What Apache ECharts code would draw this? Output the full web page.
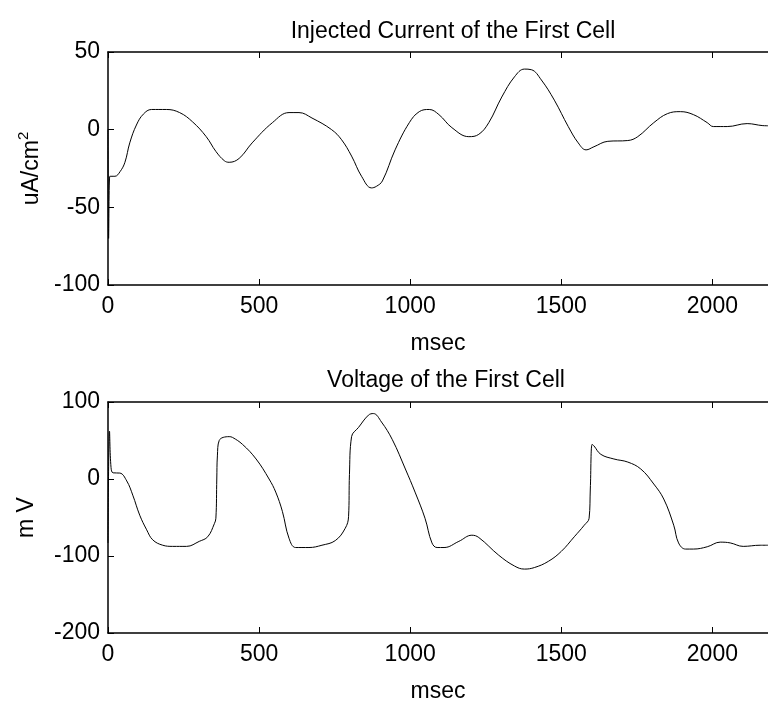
<!DOCTYPE html>
<html>
<head>
<meta charset="utf-8">
<script src="https://cdn.jsdelivr.net/npm/echarts@6/dist/echarts.min.js"></script>
<style>html,body{margin:0;padding:0;background:#fff}#c{width:768px;height:704px}</style>
</head>
<body>
<div id="c"></div>
<script>
// ---- data ----
const titles = ['Injected Current of the First Cell', 'Voltage of the First Cell'];
const xTicks = [0, 500, 1000, 1500, 2000];
const currentTicks = [-100, -50, 0, 50];
const voltageTicks = [-200, -100, 0, 100];

const currentT = [0, 2, 6, 10, 23, 40, 56, 72, 94, 117, 144, 193, 237, 280, 325, 357, 385, 401, 434, 477, 544, 599, 632, 675, 740, 773, 806, 839, 872, 888, 908, 950, 997, 1030, 1063, 1095, 1138, 1194, 1227, 1260, 1303, 1345, 1378, 1401, 1434, 1477, 1523, 1556, 1582, 1608, 1654, 1720, 1753, 1806, 1851, 1894, 1937, 1983, 2003, 2049, 2115, 2167, 2184];
const currentI = [0, -70, -30, -30, -30, -27, -21, -8.5, 3, 10, 13, 13, 11, 5, -4.5, -14, -20, -21, -18.5, -8.5, 4.5, 11, 11, 7.5, 0, -6.5, -17, -30, -37.5, -36.5, -33, -13, 4.5, 11.6, 13, 9.7, 1.3, -4.5, -3, 4.5, 21, 34, 39, 38.6, 32, 19, 2, -8.5, -13, -11, -7.5, -7, -4.5, 4.5, 10.3, 11.6, 9.7, 4.5, 2, 2, 3.9, 2.6, 2.5];

const voltageT = [0, 5, 10, 17, 39, 62, 82, 105, 128, 148, 181, 214, 260, 302, 330, 352, 357, 360, 362, 368, 401, 412, 445, 490, 533, 555, 577, 599, 621, 665, 708, 752, 785, 796, 799, 806, 829, 862, 878, 905, 941, 984, 1016, 1049, 1072, 1089, 1112, 1161, 1204, 1227, 1293, 1345, 1378, 1411, 1457, 1500, 1543, 1576, 1592, 1596, 1602, 1608, 1631, 1674, 1720, 1763, 1806, 1839, 1872, 1888, 1911, 1937, 1983, 2026, 2059, 2102, 2158, 2184];
const voltageV = [-83, 62, 15, 8, 7.7, -2.5, -21, -47, -66, -79, -86, -87.5, -87.5, -81, -75, -58, -51, 0, 30, 50, 55, 54, 45, 26, 0, -17, -42, -77, -89, -89, -86, -80, -64, -49, 6, 55, 67, 83, 85, 74, 51, 13, -17, -51, -83, -89, -89, -81, -73, -76, -99, -113, -117, -115, -107, -94, -75, -60, -51, -13, 45, 43, 32, 26, 22, 13, -6.5, -26, -60, -83, -91, -91, -88, -82, -83, -87.5, -86, -86];

// ---- chart ----
const FONT = "'Liberation Sans', Arial, sans-serif";
const XMAX = 2184;
const zip = (a, b) => a.map((v, i) => [v, b[i]]);
const axisLineStyle = { color: '#000', width: 1.5 };

function xAxes(grid) {
  return [
    {
      gridIndex: grid, type: 'value', position: 'bottom',
      min: xTicks[0], max: XMAX, interval: xTicks[1] - xTicks[0],
      axisLine: { show: true, onZero: false, lineStyle: axisLineStyle },
      axisTick: { show: true, inside: true, length: 6, lineStyle: { color: '#000' } },
      axisLabel: { color: '#000', fontSize: 23, fontFamily: FONT, margin: 10, showMaxLabel: false,
        formatter: v => xTicks.includes(v) ? String(v) : '' },
      splitLine: { show: false },
      name: 'msec', nameLocation: 'middle', nameGap: 47,
      nameTextStyle: { color: '#000', fontSize: 23, fontFamily: FONT }
    },
    {
      gridIndex: grid, type: 'value', position: 'top',
      min: xTicks[0], max: XMAX, interval: xTicks[1] - xTicks[0],
      axisLine: { show: true, onZero: false, lineStyle: axisLineStyle },
      axisTick: { show: true, inside: true, length: 6, lineStyle: { color: '#000' } },
      axisLabel: { show: false },
      splitLine: { show: false }
    }
  ];
}

function yAxis(grid, ticks, name, gap, rich) {
  return {
    gridIndex: grid, type: 'value',
    min: ticks[0], max: ticks[ticks.length - 1], interval: ticks[1] - ticks[0],
    axisLine: { show: true, onZero: false, lineStyle: axisLineStyle },
    axisTick: { show: true, inside: true, length: 6, lineStyle: { color: '#000' } },
    axisLabel: { color: '#000', fontSize: 23, fontFamily: FONT, margin: 8, padding: [6, 0, 0, 0] },
    splitLine: { show: false },
    name: name, nameLocation: 'middle', nameGap: gap, nameRotate: 90,
    nameTextStyle: { color: '#000', fontSize: 23, fontFamily: FONT, rich: rich }
  };
}

const lineSeries = (xi, yi, data) => ({
  type: 'line', xAxisIndex: xi, yAxisIndex: yi, data: data,
  showSymbol: false, symbol: 'none', smooth: 0.4,
  lineStyle: { color: '#000', width: 1 }, silent: true
});

const chart = echarts.init(document.getElementById('c'), null, { renderer: 'canvas' });
chart.setOption({
  animation: false,
  backgroundColor: '#fff',
  title: [
    { text: titles[0], left: 448, top: 15, textAlign: 'center',
      textStyle: { color: '#000', fontSize: 23, fontWeight: 'normal', fontFamily: FONT } },
    { text: titles[1], left: 441, top: 364, textAlign: 'center',
      textStyle: { color: '#000', fontSize: 23, fontWeight: 'normal', fontFamily: FONT } }
  ],
  grid: [
    { left: 108, top: 52, width: 664, height: 233 },
    { left: 108, top: 402, width: 664, height: 234 }
  ],
  xAxis: [...xAxes(0), ...xAxes(1)],
  yAxis: [
    yAxis(0, currentTicks, '{a|uA/cm}{s|2}', 55, {
      a: { fontSize: 23, fontFamily: FONT, color: '#000', lineHeight: 27, verticalAlign: 'bottom' },
      s: { fontSize: 15, fontFamily: FONT, color: '#000', lineHeight: 27, verticalAlign: 'top' }
    }),
    yAxis(1, voltageTicks, 'm V', 70)
  ],
  series: [
    lineSeries(0, 0, zip(currentT, currentI)),
    lineSeries(2, 1, zip(voltageT, voltageV))
  ]
});
</script>
</body>
</html>
